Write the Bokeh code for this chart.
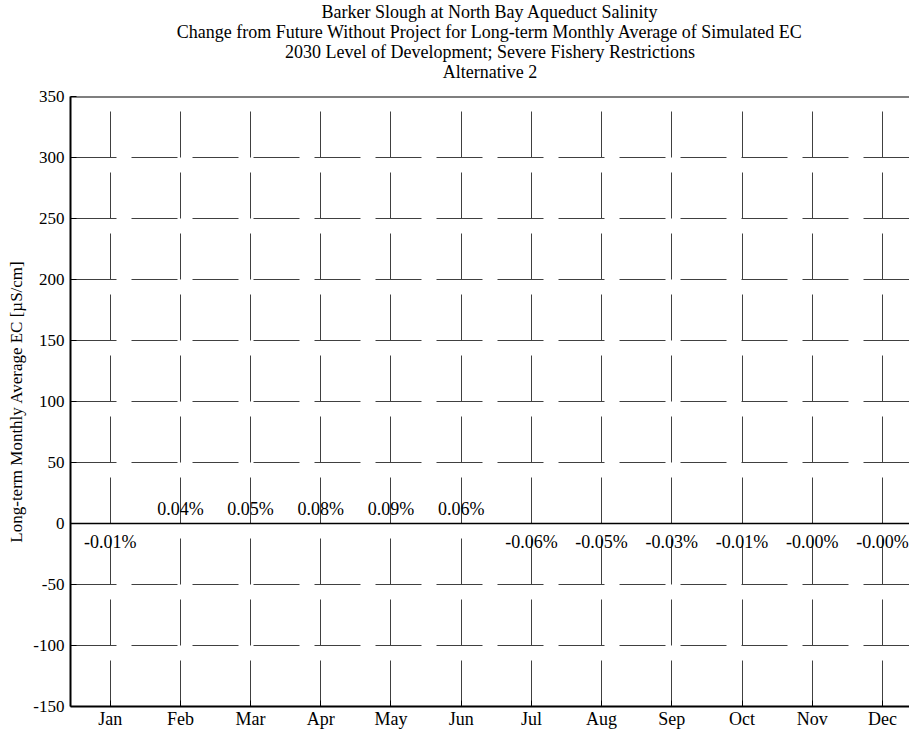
from bokeh.plotting import figure
from bokeh.models import (Range1d, FixedTicker, Span, Title, ColumnDataSource)
from bokeh.core.properties import value
from bokeh.embed import file_html
from bokeh.resources import INLINE

months = ["Jan", "Feb", "Mar", "Apr", "May", "Jun", "Jul", "Aug", "Sep", "Oct", "Nov", "Dec"]
change_ec = [-0.03, 0.12, 0.15, 0.25, 0.30, 0.20, -0.20, -0.17, -0.10, -0.03, -0.01, -0.01]
pct_labels = ["-0.01%", "0.04%", "0.05%", "0.08%", "0.09%", "0.06%",
              "-0.06%", "-0.05%", "-0.03%", "-0.01%", "-0.00%", "-0.00%"]
y_ticks = [-150, -100, -50, 0, 50, 100, 150, 200, 250, 300, 350]
y_tick_labels = ["-150", "-100", "-50", "0", "50", "100", "150", "200", "250", "300", "350"]
title_lines = ["Barker Slough at North Bay Aqueduct Salinity",
               "Change from Future Without Project for Long-term Monthly Average of Simulated EC",
               "2030 Level of Development; Severe Fishery Restrictions",
               "Alternative 2"]

FONT = "Liberation Serif"

xs = list(range(1, len(months) + 1))

p = figure(frame_width=839, frame_height=610, output_backend="svg", toolbar_location=None,
           title=None,
           x_range=Range1d(0.4345, 12.386), y_range=Range1d(-150, 350),
           min_border_left=70, min_border_right=0, min_border_bottom=0, min_border_top=0)
p.outline_line_color = None
p.background_fill_color = "white"

# spacer between titles and frame
p.add_layout(Title(text=" ", text_font_size="1px", standoff=13.3, offset=0), "above")
for line in reversed(title_lines):
    t = Title(text=line, align="center", text_font=FONT, text_font_size="18px",
              text_font_style="normal", text_color="black",
              standoff=-2.2, offset=0)
    p.add_layout(t, "above")

# axes
p.xaxis.ticker = FixedTicker(ticks=xs)
p.xaxis.major_label_overrides = {i: m for i, m in zip(xs, months)}
p.yaxis.ticker = FixedTicker(ticks=y_ticks)
p.yaxis.major_label_overrides = {t: s for t, s in zip(y_ticks, y_tick_labels)}
for ax in (p.xaxis[0], p.yaxis[0]):
    ax.axis_line_color = "black"
    ax.axis_line_width = 2
    ax.major_tick_in = 6
    ax.major_tick_out = 0
    ax.minor_tick_in = 0
    ax.minor_tick_out = 0
    ax.major_tick_line_color = "black"
    ax.major_label_text_font = FONT
    ax.major_label_text_color = "black"
p.yaxis.major_label_text_font_size = "17px"
p.xaxis.major_label_text_font_size = "18px"
p.yaxis.major_label_standoff = 6
p.xaxis.major_label_standoff = 2
p.yaxis.axis_label = "Long-term Monthly Average EC [\u00b5S/cm]"
p.yaxis.axis_label_text_font = FONT
p.yaxis.axis_label_text_font_size = "17px"
p.yaxis.axis_label_text_font_style = "normal"
p.yaxis.axis_label_text_color = "black"
p.yaxis.axis_label_standoff = 4

# grid
for g in (p.xgrid[0], p.ygrid[0]):
    g.grid_line_color = "#404040"
    g.grid_line_width = 1
    g.grid_line_dash = "46 15"

# bars
src = ColumnDataSource(dict(x=xs, top=change_ec))
p.vbar(x="x", top="top", bottom=0, width=0.5, source=src,
       fill_color="#3060c0", line_color=None)

# zero line and top border
p.add_layout(Span(location=0, dimension="width", line_color="black", line_width=1.5))
p.add_layout(Span(location=350, dimension="width", line_color="black", line_width=2))

pos = ColumnDataSource(dict(x=[x for x, v in zip(xs, change_ec) if v >= 0],
                            y=[0 for v in change_ec if v >= 0],
                            lab=[l for l, v in zip(pct_labels, change_ec) if v >= 0]))
neg = ColumnDataSource(dict(x=[x for x, v in zip(xs, change_ec) if v < 0],
                            y=[0 for v in change_ec if v < 0],
                            lab=[l for l, v in zip(pct_labels, change_ec) if v < 0]))
p.text(x="x", y="y", text="lab", source=pos, text_font=value(FONT), text_font_size="18px",
       text_align="center", text_baseline="alphabetic", y_offset=-15, text_color="black")
p.text(x="x", y="y", text="lab", source=neg, text_font=value(FONT), text_font_size="18px",
       text_align="center", text_baseline="alphabetic", y_offset=18, text_color="black")

open("out.html", "w").write(file_html(p, INLINE))
